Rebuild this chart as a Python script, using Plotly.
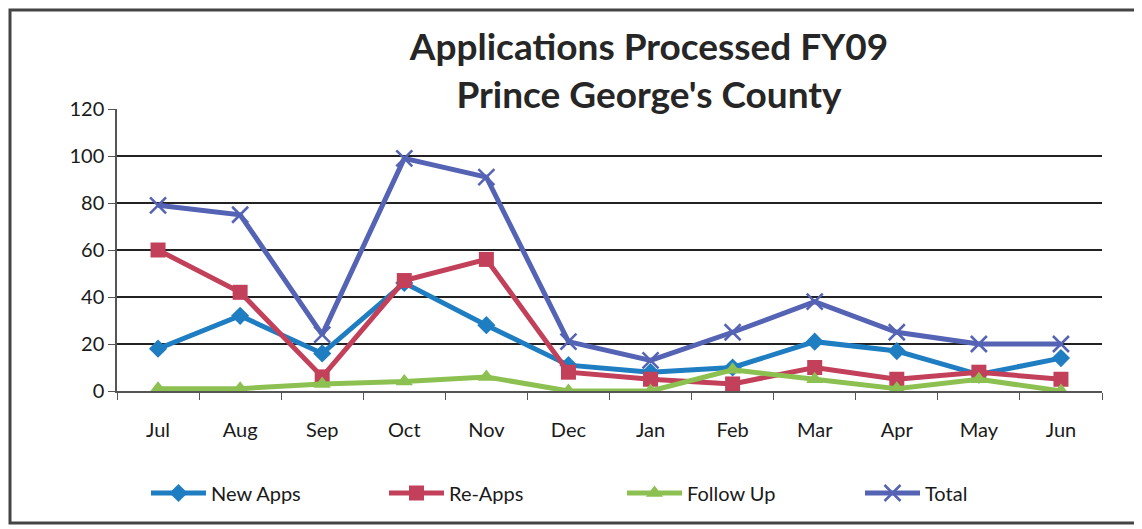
import plotly.graph_objects as go

months = ["Jul", "Aug", "Sep", "Oct", "Nov", "Dec", "Jan", "Feb", "Mar", "Apr", "May", "Jun"]
new_apps = [18, 32, 16, 46, 28, 11, 8, 10, 21, 17, 7, 14]
re_apps = [60, 42, 6, 47, 56, 8, 5, 3, 10, 5, 8, 5]
follow_up = [1, 1, 3, 4, 6, 0, 0, 9, 5, 1, 5, 0]
total = [79, 75, 24, 99, 91, 21, 13, 25, 38, 25, 20, 20]
y_ticks = [0, 20, 40, 60, 80, 100, 120]

FONT = "Lato"
OFF = 8  # page body margin
W, H = 1142 - OFF, 529 - OFF
ML, MT = 117 - OFF, 109 - OFF
MR, MB = 1142 - 1102, 529 - 391
PW, PH = W - ML - MR, H - MT - MB

def px(x):  # page px -> paper
    return (x - OFF - ML) / PW

def py(y):  # page px -> paper
    return (H - MB - (y - OFF)) / PH

fig = go.Figure()
series = [
    ("New Apps", new_apps, "#1f7dc2", dict(symbol="diamond", size=14)),
    ("Re-Apps", re_apps, "#c2405a", dict(symbol="square", size=15)),
    ("Follow Up", follow_up, "#8cc152", dict(symbol="triangle-up", size=15)),
    ("Total", total, "#5563b4", dict(symbol="x-thin-open", size=16, line=dict(width=2.5))),
]
for name, vals, col, mk in series:
    fig.add_trace(go.Scatter(
        x=months, y=vals, name=name, mode="lines+markers",
        line=dict(color=col, width=5),
        marker=dict(color=col, **mk),
    ))

fig.update_layout(
    width=W, height=H,
    margin=dict(l=ML, r=MR, t=MT, b=MB),
    paper_bgcolor="white", plot_bgcolor="white",
    font=dict(family=FONT, color="#1a1a1a", size=20),
    title=dict(
        text="<b>Applications Processed FY09<br>Prince George's County</b>",
        x=px(649), xref="paper", xanchor="center",
        y=1 - 52 / H, yanchor="middle",
        font=dict(family=FONT, size=37, color="#262626"),
    ),
    showlegend=True,
    legend=dict(
        orientation="h", x=px(622), xanchor="center", xref="paper",
        y=py(493), yanchor="middle", yref="paper",
        font=dict(family=FONT, size=20, color="#1a1a1a"),
        entrywidth=168, itemwidth=55,
    ),
    xaxis=dict(
        type="category", showgrid=False, showline=True, linecolor="#555", linewidth=1.5,
        ticks="outside", tickson="boundaries", ticklen=7, tickcolor="#555",
        ticklabelstandoff=20,
        tickfont=dict(family=FONT, size=20, color="#1a1a1a"), range=[-0.5, 11.5],
    ),
    yaxis=dict(
        range=[0, 120], tickvals=y_ticks, showgrid=True, gridcolor="#222", gridwidth=2,
        showline=True, linecolor="#555", linewidth=1.5, ticks="outside", ticklen=7,
        tickcolor="#555", tickfont=dict(family=FONT, size=20, color="#1a1a1a"),
        zeroline=False,
    ),
    shapes=[dict(
        type="rect", xref="paper", yref="paper",
        x0=px(10), x1=px(1136), y0=py(523), y1=py(10),
        line=dict(color="#444", width=3), fillcolor="rgba(0,0,0,0)", layer="below",
    )],
)

fig.write_html("out.html")
